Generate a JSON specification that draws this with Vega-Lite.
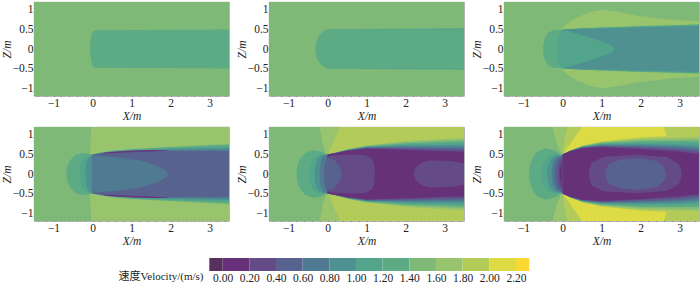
{"$schema":"https://vega.github.io/schema/vega-lite/v6.json","background":"white","padding":{"left":0,"top":-1,"right":0,"bottom":0},
"config":{"view":{"stroke":"#8a8a8a","strokeWidth":0.8},"font":"Liberation Serif",
 "axisX":{"title":"X/m","titleFontStyle":"italic","titleFontWeight":"normal","titleFont":"Liberation Serif","titleFontSize":11.5,"titleColor":"#222","titlePadding":0,"labelFont":"Liberation Serif","labelFontSize":11.5,"labelColor":"#222","labelPadding":5,"labelFlush":false,"labelOverlap":false,"grid":false,"domain":false,"zindex":1,"tickColor":"#333","tickWidth":0.7},
 "axisY":{"titleFontStyle":"italic","titleFontWeight":"normal","titleFont":"Liberation Serif","titleFontSize":11.5,"titleColor":"#222","titlePadding":0,"labelFont":"Liberation Serif","labelFontSize":11.5,"labelColor":"#222","labelPadding":5,"labelFlush":false,"labelOverlap":false,"grid":false,"domain":false,"zindex":1,"tickColor":"#333","tickWidth":0.7}},
"datasets":{"f":[
{"p":1,"r":"a","v":1.5,"x":-1.5,"hi":1.2,"lo":-1.2},{"p":1,"r":"a","v":1.5,"x":3.5,"hi":1.2,"lo":-1.2},
{"p":1,"r":"b","v":1.3,"x":-0.06,"hi":0,"lo":0},{"p":1,"r":"b","v":1.3,"x":-0.057,"hi":0.1,"lo":-0.1},{"p":1,"r":"b","v":1.3,"x":-0.05,"hi":0.2,"lo":-0.2},{"p":1,"r":"b","v":1.3,"x":-0.03,"hi":0.33,"lo":-0.33},{"p":1,"r":"b","v":1.3,"x":-0.01,"hi":0.42,"lo":-0.42},{"p":1,"r":"b","v":1.3,"x":0.03,"hi":0.47,"lo":-0.47},{"p":1,"r":"b","v":1.3,"x":0.1,"hi":0.48,"lo":-0.48},{"p":1,"r":"b","v":1.3,"x":1,"hi":0.485,"lo":-0.485},{"p":1,"r":"b","v":1.3,"x":3.5,"hi":0.5,"lo":-0.5},

{"p":2,"r":"a","v":1.5,"x":-1.5,"hi":1.2,"lo":-1.2},{"p":2,"r":"a","v":1.5,"x":3.5,"hi":1.2,"lo":-1.2},
{"p":2,"r":"b","v":1.3,"x":-0.31,"hi":0,"lo":0},{"p":2,"r":"b","v":1.3,"x":-0.3,"hi":0.1,"lo":-0.1},{"p":2,"r":"b","v":1.3,"x":-0.28,"hi":0.2,"lo":-0.2},{"p":2,"r":"b","v":1.3,"x":-0.24,"hi":0.3,"lo":-0.3},{"p":2,"r":"b","v":1.3,"x":-0.17,"hi":0.4,"lo":-0.4},{"p":2,"r":"b","v":1.3,"x":-0.08,"hi":0.47,"lo":-0.47},{"p":2,"r":"b","v":1.3,"x":0,"hi":0.51,"lo":-0.51},{"p":2,"r":"b","v":1.3,"x":1,"hi":0.51,"lo":-0.51},{"p":2,"r":"b","v":1.3,"x":3.5,"hi":0.53,"lo":-0.53},
{"p":2,"r":"c","v":1.1,"x":0.4,"hi":0.5,"lo":0.5},{"p":2,"r":"c","v":1.1,"x":1,"hi":0.505,"lo":0.485},{"p":2,"r":"c","v":1.1,"x":3.5,"hi":0.52,"lo":0.49},
{"p":2,"r":"d","v":1.1,"x":0.4,"hi":-0.5,"lo":-0.5},{"p":2,"r":"d","v":1.1,"x":1,"hi":-0.485,"lo":-0.505},{"p":2,"r":"d","v":1.1,"x":3.5,"hi":-0.49,"lo":-0.52},

{"p":3,"r":"a","v":1.5,"x":-1.5,"hi":1.2,"lo":-1.2},{"p":3,"r":"a","v":1.5,"x":3.5,"hi":1.2,"lo":-1.2},
{"p":3,"r":"b","v":1.7,"x":-0.03,"hi":0.51,"lo":-0.51},{"p":3,"r":"b","v":1.7,"x":0.1,"hi":0.64,"lo":-0.64},{"p":3,"r":"b","v":1.7,"x":0.38,"hi":0.81,"lo":-0.81},{"p":3,"r":"b","v":1.7,"x":0.7,"hi":0.94,"lo":-0.94},{"p":3,"r":"b","v":1.7,"x":1.02,"hi":1,"lo":-1},{"p":3,"r":"b","v":1.7,"x":1.49,"hi":0.94,"lo":-0.94},{"p":3,"r":"b","v":1.7,"x":1.9,"hi":0.855,"lo":-0.855},{"p":3,"r":"b","v":1.7,"x":2.77,"hi":0.75,"lo":-0.75},{"p":3,"r":"b","v":1.7,"x":3.5,"hi":0.71,"lo":-0.71},
{"p":3,"r":"c","v":1.3,"x":-0.5,"hi":0,"lo":0},{"p":3,"r":"c","v":1.3,"x":-0.488,"hi":0.147,"lo":-0.147},{"p":3,"r":"c","v":1.3,"x":-0.452,"hi":0.282,"lo":-0.282},{"p":3,"r":"c","v":1.3,"x":-0.38,"hi":0.407,"lo":-0.407},{"p":3,"r":"c","v":1.3,"x":-0.26,"hi":0.47,"lo":-0.47},{"p":3,"r":"c","v":1.3,"x":0,"hi":0.49,"lo":-0.49},
{"p":3,"r":"d","v":1.3,"x":0,"hi":0.5,"lo":-0.5},{"p":3,"r":"d","v":1.3,"x":0.5,"hi":0.53,"lo":-0.53},{"p":3,"r":"d","v":1.3,"x":1,"hi":0.55,"lo":-0.55},{"p":3,"r":"d","v":1.3,"x":2,"hi":0.59,"lo":-0.59},{"p":3,"r":"d","v":1.3,"x":3,"hi":0.615,"lo":-0.615},{"p":3,"r":"d","v":1.3,"x":3.5,"hi":0.63,"lo":-0.63},
{"p":3,"r":"e","v":1.1,"x":0,"hi":0.5,"lo":-0.5},{"p":3,"r":"e","v":1.1,"x":0.5,"hi":0.525,"lo":-0.525},{"p":3,"r":"e","v":1.1,"x":1,"hi":0.54,"lo":-0.54},{"p":3,"r":"e","v":1.1,"x":2,"hi":0.575,"lo":-0.575},{"p":3,"r":"e","v":1.1,"x":3,"hi":0.6,"lo":-0.6},{"p":3,"r":"e","v":1.1,"x":3.5,"hi":0.61,"lo":-0.61},
{"p":3,"r":"f","v":0.9,"x":-0.14,"hi":0,"lo":0},{"p":3,"r":"f","v":0.9,"x":-0.135,"hi":0.1,"lo":-0.1},{"p":3,"r":"f","v":0.9,"x":-0.12,"hi":0.22,"lo":-0.22},{"p":3,"r":"f","v":0.9,"x":-0.09,"hi":0.35,"lo":-0.35},{"p":3,"r":"f","v":0.9,"x":-0.04,"hi":0.45,"lo":-0.45},{"p":3,"r":"f","v":0.9,"x":0,"hi":0.5,"lo":-0.5},{"p":3,"r":"f","v":0.9,"x":0.5,"hi":0.515,"lo":-0.515},{"p":3,"r":"f","v":0.9,"x":1,"hi":0.525,"lo":-0.525},{"p":3,"r":"f","v":0.9,"x":2,"hi":0.55,"lo":-0.55},{"p":3,"r":"f","v":0.9,"x":3,"hi":0.575,"lo":-0.575},{"p":3,"r":"f","v":0.9,"x":3.5,"hi":0.585,"lo":-0.585},
{"p":3,"r":"g","v":1.1,"x":-0.14,"hi":0,"lo":0},{"p":3,"r":"g","v":1.1,"x":-0.135,"hi":0.1,"lo":-0.1},{"p":3,"r":"g","v":1.1,"x":-0.12,"hi":0.22,"lo":-0.22},{"p":3,"r":"g","v":1.1,"x":-0.09,"hi":0.35,"lo":-0.35},{"p":3,"r":"g","v":1.1,"x":-0.04,"hi":0.45,"lo":-0.45},{"p":3,"r":"g","v":1.1,"x":0,"hi":0.5,"lo":-0.5},{"p":3,"r":"g","v":1.1,"x":0.2,"hi":0.44,"lo":-0.44},{"p":3,"r":"g","v":1.1,"x":0.55,"hi":0.34,"lo":-0.34},{"p":3,"r":"g","v":1.1,"x":0.9,"hi":0.23,"lo":-0.23},{"p":3,"r":"g","v":1.1,"x":1.15,"hi":0.14,"lo":-0.14},{"p":3,"r":"g","v":1.1,"x":1.28,"hi":0.07,"lo":-0.07},{"p":3,"r":"g","v":1.1,"x":1.34,"hi":0,"lo":0},

{"p":4,"r":"a","v":1.5,"x":-1.5,"hi":1.2,"lo":-1.2},{"p":4,"r":"a","v":1.5,"x":3.5,"hi":1.2,"lo":-1.2},
{"p":4,"r":"b","v":1.7,"x":-0.06,"hi":0.52,"lo":-0.52},{"p":4,"r":"b","v":1.7,"x":-0.055,"hi":0.8,"lo":-0.8},{"p":4,"r":"b","v":1.7,"x":-0.04,"hi":1,"lo":-1},{"p":4,"r":"b","v":1.7,"x":-0.03,"hi":1.2,"lo":-1.2},{"p":4,"r":"b","v":1.7,"x":3.5,"hi":1.2,"lo":-1.2},
{"p":4,"r":"c","v":1.3,"x":-0.675,"hi":0,"lo":0},{"p":4,"r":"c","v":1.3,"x":-0.655,"hi":0.168,"lo":-0.168},{"p":4,"r":"c","v":1.3,"x":-0.593,"hi":0.324,"lo":-0.324},{"p":4,"r":"c","v":1.3,"x":-0.47,"hi":0.468,"lo":-0.468},{"p":4,"r":"c","v":1.3,"x":-0.265,"hi":0.54,"lo":-0.54},{"p":4,"r":"c","v":1.3,"x":-0.1,"hi":0.52,"lo":-0.52},{"p":4,"r":"c","v":1.3,"x":0,"hi":0.49,"lo":-0.49},
{"p":4,"r":"d","v":1.1,"x":-0.333,"hi":0,"lo":0},{"p":4,"r":"d","v":1.1,"x":-0.322,"hi":0.147,"lo":-0.147},{"p":4,"r":"d","v":1.1,"x":-0.29,"hi":0.282,"lo":-0.282},{"p":4,"r":"d","v":1.1,"x":-0.227,"hi":0.407,"lo":-0.407},{"p":4,"r":"d","v":1.1,"x":-0.12,"hi":0.47,"lo":-0.47},{"p":4,"r":"d","v":1.1,"x":0,"hi":0.49,"lo":-0.49},
{"p":4,"r":"e","v":0.9,"x":-0.18,"hi":0,"lo":0},{"p":4,"r":"e","v":0.9,"x":-0.174,"hi":0.147,"lo":-0.147},{"p":4,"r":"e","v":0.9,"x":-0.154,"hi":0.282,"lo":-0.282},{"p":4,"r":"e","v":0.9,"x":-0.115,"hi":0.407,"lo":-0.407},{"p":4,"r":"e","v":0.9,"x":-0.05,"hi":0.47,"lo":-0.47},{"p":4,"r":"e","v":0.9,"x":0,"hi":0.49,"lo":-0.49},
{"p":4,"r":"f","v":1.5,"x":0,"hi":0.5,"lo":-0.5},{"p":4,"r":"f","v":1.5,"x":0.2,"hi":0.545,"lo":-0.545},{"p":4,"r":"f","v":1.5,"x":0.5,"hi":0.6,"lo":-0.6},{"p":4,"r":"f","v":1.5,"x":1,"hi":0.645,"lo":-0.645},{"p":4,"r":"f","v":1.5,"x":2,"hi":0.695,"lo":-0.695},{"p":4,"r":"f","v":1.5,"x":3,"hi":0.745,"lo":-0.745},{"p":4,"r":"f","v":1.5,"x":3.5,"hi":0.765,"lo":-0.765},
{"p":4,"r":"g","v":1.3,"x":0,"hi":0.5,"lo":-0.5},{"p":4,"r":"g","v":1.3,"x":0.2,"hi":0.54,"lo":-0.54},{"p":4,"r":"g","v":1.3,"x":0.5,"hi":0.59,"lo":-0.59},{"p":4,"r":"g","v":1.3,"x":1,"hi":0.635,"lo":-0.635},{"p":4,"r":"g","v":1.3,"x":2,"hi":0.685,"lo":-0.685},{"p":4,"r":"g","v":1.3,"x":3,"hi":0.73,"lo":-0.73},{"p":4,"r":"g","v":1.3,"x":3.5,"hi":0.75,"lo":-0.75},
{"p":4,"r":"h","v":1.1,"x":0,"hi":0.5,"lo":-0.5},{"p":4,"r":"h","v":1.1,"x":0.2,"hi":0.535,"lo":-0.535},{"p":4,"r":"h","v":1.1,"x":0.5,"hi":0.579,"lo":-0.579},{"p":4,"r":"h","v":1.1,"x":1,"hi":0.616,"lo":-0.616},{"p":4,"r":"h","v":1.1,"x":2,"hi":0.661,"lo":-0.661},{"p":4,"r":"h","v":1.1,"x":3,"hi":0.694,"lo":-0.694},{"p":4,"r":"h","v":1.1,"x":3.5,"hi":0.708,"lo":-0.708},
{"p":4,"r":"i","v":0.9,"x":0,"hi":0.5,"lo":-0.5},{"p":4,"r":"i","v":0.9,"x":0.2,"hi":0.53,"lo":-0.53},{"p":4,"r":"i","v":0.9,"x":0.5,"hi":0.568,"lo":-0.568},{"p":4,"r":"i","v":0.9,"x":1,"hi":0.597,"lo":-0.597},{"p":4,"r":"i","v":0.9,"x":2,"hi":0.637,"lo":-0.637},{"p":4,"r":"i","v":0.9,"x":3,"hi":0.658,"lo":-0.658},{"p":4,"r":"i","v":0.9,"x":3.5,"hi":0.665,"lo":-0.665},
{"p":4,"r":"j","v":0.7,"x":0,"hi":0.5,"lo":-0.5},{"p":4,"r":"j","v":0.7,"x":0.2,"hi":0.525,"lo":-0.525},{"p":4,"r":"j","v":0.7,"x":0.5,"hi":0.556,"lo":-0.556},{"p":4,"r":"j","v":0.7,"x":1,"hi":0.579,"lo":-0.579},{"p":4,"r":"j","v":0.7,"x":2,"hi":0.613,"lo":-0.613},{"p":4,"r":"j","v":0.7,"x":3,"hi":0.621,"lo":-0.621},{"p":4,"r":"j","v":0.7,"x":3.5,"hi":0.623,"lo":-0.623},
{"p":4,"r":"k","v":0.5,"x":0,"hi":0.5,"lo":-0.5},{"p":4,"r":"k","v":0.5,"x":0.2,"hi":0.52,"lo":-0.52},{"p":4,"r":"k","v":0.5,"x":0.5,"hi":0.545,"lo":-0.545},{"p":4,"r":"k","v":0.5,"x":1,"hi":0.56,"lo":-0.56},{"p":4,"r":"k","v":0.5,"x":2,"hi":0.59,"lo":-0.59},{"p":4,"r":"k","v":0.5,"x":3,"hi":0.585,"lo":-0.585},{"p":4,"r":"k","v":0.5,"x":3.5,"hi":0.58,"lo":-0.58},
{"p":4,"r":"l","v":0.3,"x":0.15,"hi":0.525,"lo":0.515},{"p":4,"r":"l","v":0.3,"x":0.5,"hi":0.565,"lo":0.53},{"p":4,"r":"l","v":0.3,"x":1,"hi":0.6,"lo":0.55},{"p":4,"r":"l","v":0.3,"x":1.5,"hi":0.615,"lo":0.565},{"p":4,"r":"l","v":0.3,"x":1.9,"hi":0.612,"lo":0.59},{"p":4,"r":"l","v":0.3,"x":1.96,"hi":0.6,"lo":0.6},
{"p":4,"r":"m","v":0.3,"x":0.15,"hi":-0.515,"lo":-0.525},{"p":4,"r":"m","v":0.3,"x":0.5,"hi":-0.53,"lo":-0.565},{"p":4,"r":"m","v":0.3,"x":1,"hi":-0.55,"lo":-0.6},{"p":4,"r":"m","v":0.3,"x":1.5,"hi":-0.565,"lo":-0.615},{"p":4,"r":"m","v":0.3,"x":1.9,"hi":-0.59,"lo":-0.612},{"p":4,"r":"m","v":0.3,"x":1.96,"hi":-0.6,"lo":-0.6},
{"p":4,"r":"n","v":0.1,"x":0.3,"hi":0.54,"lo":0.53},{"p":4,"r":"n","v":0.1,"x":0.6,"hi":0.565,"lo":0.545},{"p":4,"r":"n","v":0.1,"x":1,"hi":0.59,"lo":0.565},{"p":4,"r":"n","v":0.1,"x":1.5,"hi":0.605,"lo":0.58},{"p":4,"r":"n","v":0.1,"x":1.85,"hi":0.6,"lo":0.595},
{"p":4,"r":"o","v":0.1,"x":0.3,"hi":-0.53,"lo":-0.54},{"p":4,"r":"o","v":0.1,"x":0.6,"hi":-0.545,"lo":-0.565},{"p":4,"r":"o","v":0.1,"x":1,"hi":-0.565,"lo":-0.59},{"p":4,"r":"o","v":0.1,"x":1.5,"hi":-0.58,"lo":-0.605},{"p":4,"r":"o","v":0.1,"x":1.85,"hi":-0.595,"lo":-0.6},
{"p":4,"r":"q","v":0.7,"x":0,"hi":0.48,"lo":-0.48},{"p":4,"r":"q","v":0.7,"x":0.2,"hi":0.46,"lo":-0.46},{"p":4,"r":"q","v":0.7,"x":0.63,"hi":0.43,"lo":-0.43},{"p":4,"r":"q","v":0.7,"x":1.23,"hi":0.345,"lo":-0.345},{"p":4,"r":"q","v":0.7,"x":1.55,"hi":0.25,"lo":-0.25},{"p":4,"r":"q","v":0.7,"x":1.78,"hi":0.15,"lo":-0.15},{"p":4,"r":"q","v":0.7,"x":1.9,"hi":0.07,"lo":-0.07},{"p":4,"r":"q","v":0.7,"x":1.94,"hi":0,"lo":0},

{"p":5,"r":"a","v":1.5,"x":-1.5,"hi":1.2,"lo":-1.2},{"p":5,"r":"a","v":1.5,"x":3.5,"hi":1.2,"lo":-1.2},
{"p":5,"r":"b","v":1.7,"x":-0.2,"hi":1.2,"lo":1.2},{"p":5,"r":"b","v":1.7,"x":-0.12,"hi":1.2,"lo":0.77},{"p":5,"r":"b","v":1.7,"x":-0.03,"hi":1.2,"lo":0.51},{"p":5,"r":"b","v":1.7,"x":0,"hi":1.2,"lo":0.5},{"p":5,"r":"b","v":1.7,"x":0.16,"hi":1.2,"lo":0.85},{"p":5,"r":"b","v":1.7,"x":0.31,"hi":1.2,"lo":1.2},
{"p":5,"r":"c","v":1.7,"x":-0.2,"hi":-1.2,"lo":-1.2},{"p":5,"r":"c","v":1.7,"x":-0.12,"hi":-0.77,"lo":-1.2},{"p":5,"r":"c","v":1.7,"x":-0.03,"hi":-0.51,"lo":-1.2},{"p":5,"r":"c","v":1.7,"x":0,"hi":-0.5,"lo":-1.2},{"p":5,"r":"c","v":1.7,"x":0.16,"hi":-0.85,"lo":-1.2},{"p":5,"r":"c","v":1.7,"x":0.31,"hi":-1.2,"lo":-1.2},
{"p":5,"r":"d","v":1.9,"x":0,"hi":0.5,"lo":-0.5},{"p":5,"r":"d","v":1.9,"x":0.16,"hi":0.85,"lo":-0.85},{"p":5,"r":"d","v":1.9,"x":0.31,"hi":1.2,"lo":-1.2},{"p":5,"r":"d","v":1.9,"x":3.5,"hi":1.2,"lo":-1.2},
{"p":5,"r":"e","v":1.3,"x":-0.8,"hi":0,"lo":0},{"p":5,"r":"e","v":1.3,"x":-0.778,"hi":0.192,"lo":-0.192},{"p":5,"r":"e","v":1.3,"x":-0.71,"hi":0.369,"lo":-0.369},{"p":5,"r":"e","v":1.3,"x":-0.575,"hi":0.533,"lo":-0.533},{"p":5,"r":"e","v":1.3,"x":-0.35,"hi":0.615,"lo":-0.615},{"p":5,"r":"e","v":1.3,"x":-0.15,"hi":0.57,"lo":-0.57},{"p":5,"r":"e","v":1.3,"x":0,"hi":0.49,"lo":-0.49},
{"p":5,"r":"f","v":1.1,"x":-0.48,"hi":0,"lo":0},{"p":5,"r":"f","v":1.1,"x":-0.467,"hi":0.15,"lo":-0.15},{"p":5,"r":"f","v":1.1,"x":-0.428,"hi":0.29,"lo":-0.29},{"p":5,"r":"f","v":1.1,"x":-0.35,"hi":0.42,"lo":-0.42},{"p":5,"r":"f","v":1.1,"x":-0.22,"hi":0.49,"lo":-0.49},{"p":5,"r":"f","v":1.1,"x":0,"hi":0.49,"lo":-0.49},
{"p":5,"r":"g","v":0.9,"x":-0.33,"hi":0,"lo":0},{"p":5,"r":"g","v":0.9,"x":-0.321,"hi":0.15,"lo":-0.15},{"p":5,"r":"g","v":0.9,"x":-0.294,"hi":0.288,"lo":-0.288},{"p":5,"r":"g","v":0.9,"x":-0.24,"hi":0.416,"lo":-0.416},{"p":5,"r":"g","v":0.9,"x":-0.15,"hi":0.48,"lo":-0.48},{"p":5,"r":"g","v":0.9,"x":0,"hi":0.49,"lo":-0.49},
{"p":5,"r":"h","v":0.7,"x":-0.2,"hi":0,"lo":0},{"p":5,"r":"h","v":0.7,"x":-0.194,"hi":0.147,"lo":-0.147},{"p":5,"r":"h","v":0.7,"x":-0.176,"hi":0.282,"lo":-0.282},{"p":5,"r":"h","v":0.7,"x":-0.14,"hi":0.407,"lo":-0.407},{"p":5,"r":"h","v":0.7,"x":-0.08,"hi":0.47,"lo":-0.47},{"p":5,"r":"h","v":0.7,"x":0,"hi":0.49,"lo":-0.49},
{"p":5,"r":"i","v":1.7,"x":0,"hi":0.5,"lo":-0.5},{"p":5,"r":"i","v":1.7,"x":0.2,"hi":0.545,"lo":-0.545},{"p":5,"r":"i","v":1.7,"x":0.5,"hi":0.63,"lo":-0.63},{"p":5,"r":"i","v":1.7,"x":1,"hi":0.73,"lo":-0.73},{"p":5,"r":"i","v":1.7,"x":2,"hi":0.84,"lo":-0.84},{"p":5,"r":"i","v":1.7,"x":3,"hi":0.9,"lo":-0.9},{"p":5,"r":"i","v":1.7,"x":3.5,"hi":0.925,"lo":-0.925},
{"p":5,"r":"j","v":1.5,"x":0,"hi":0.5,"lo":-0.5},{"p":5,"r":"j","v":1.5,"x":0.2,"hi":0.543,"lo":-0.543},{"p":5,"r":"j","v":1.5,"x":0.5,"hi":0.625,"lo":-0.625},{"p":5,"r":"j","v":1.5,"x":1,"hi":0.72,"lo":-0.72},{"p":5,"r":"j","v":1.5,"x":2,"hi":0.8125,"lo":-0.8125},{"p":5,"r":"j","v":1.5,"x":3,"hi":0.86,"lo":-0.86},{"p":5,"r":"j","v":1.5,"x":3.5,"hi":0.881,"lo":-0.881},
{"p":5,"r":"k","v":1.3,"x":0,"hi":0.5,"lo":-0.5},{"p":5,"r":"k","v":1.3,"x":0.2,"hi":0.541,"lo":-0.541},{"p":5,"r":"k","v":1.3,"x":0.5,"hi":0.62,"lo":-0.62},{"p":5,"r":"k","v":1.3,"x":1,"hi":0.71,"lo":-0.71},{"p":5,"r":"k","v":1.3,"x":2,"hi":0.785,"lo":-0.785},{"p":5,"r":"k","v":1.3,"x":3,"hi":0.82,"lo":-0.82},{"p":5,"r":"k","v":1.3,"x":3.5,"hi":0.836,"lo":-0.836},
{"p":5,"r":"l","v":1.1,"x":0,"hi":0.5,"lo":-0.5},{"p":5,"r":"l","v":1.1,"x":0.2,"hi":0.539,"lo":-0.539},{"p":5,"r":"l","v":1.1,"x":0.5,"hi":0.615,"lo":-0.615},{"p":5,"r":"l","v":1.1,"x":1,"hi":0.7,"lo":-0.7},{"p":5,"r":"l","v":1.1,"x":2,"hi":0.7575,"lo":-0.7575},{"p":5,"r":"l","v":1.1,"x":3,"hi":0.78,"lo":-0.78},{"p":5,"r":"l","v":1.1,"x":3.5,"hi":0.792,"lo":-0.792},
{"p":5,"r":"m","v":0.9,"x":0,"hi":0.5,"lo":-0.5},{"p":5,"r":"m","v":0.9,"x":0.2,"hi":0.537,"lo":-0.537},{"p":5,"r":"m","v":0.9,"x":0.5,"hi":0.61,"lo":-0.61},{"p":5,"r":"m","v":0.9,"x":1,"hi":0.69,"lo":-0.69},{"p":5,"r":"m","v":0.9,"x":2,"hi":0.73,"lo":-0.73},{"p":5,"r":"m","v":0.9,"x":3,"hi":0.74,"lo":-0.74},{"p":5,"r":"m","v":0.9,"x":3.5,"hi":0.747,"lo":-0.747},
{"p":5,"r":"n","v":0.7,"x":0,"hi":0.5,"lo":-0.5},{"p":5,"r":"n","v":0.7,"x":0.2,"hi":0.535,"lo":-0.535},{"p":5,"r":"n","v":0.7,"x":0.5,"hi":0.605,"lo":-0.605},{"p":5,"r":"n","v":0.7,"x":1,"hi":0.68,"lo":-0.68},{"p":5,"r":"n","v":0.7,"x":2,"hi":0.7025,"lo":-0.7025},{"p":5,"r":"n","v":0.7,"x":3,"hi":0.7,"lo":-0.7},{"p":5,"r":"n","v":0.7,"x":3.5,"hi":0.703,"lo":-0.703},
{"p":5,"r":"o","v":0.5,"x":0,"hi":0.5,"lo":-0.5},{"p":5,"r":"o","v":0.5,"x":0.2,"hi":0.533,"lo":-0.533},{"p":5,"r":"o","v":0.5,"x":0.5,"hi":0.6,"lo":-0.6},{"p":5,"r":"o","v":0.5,"x":1,"hi":0.67,"lo":-0.67},{"p":5,"r":"o","v":0.5,"x":2,"hi":0.675,"lo":-0.675},{"p":5,"r":"o","v":0.5,"x":3,"hi":0.66,"lo":-0.66},{"p":5,"r":"o","v":0.5,"x":3.5,"hi":0.659,"lo":-0.659},
{"p":5,"r":"p","v":0.3,"x":0,"hi":0.5,"lo":-0.5},{"p":5,"r":"p","v":0.3,"x":0.2,"hi":0.531,"lo":-0.531},{"p":5,"r":"p","v":0.3,"x":0.5,"hi":0.595,"lo":-0.595},{"p":5,"r":"p","v":0.3,"x":1,"hi":0.66,"lo":-0.66},{"p":5,"r":"p","v":0.3,"x":2,"hi":0.6475,"lo":-0.6475},{"p":5,"r":"p","v":0.3,"x":3,"hi":0.62,"lo":-0.62},{"p":5,"r":"p","v":0.3,"x":3.5,"hi":0.614,"lo":-0.614},
{"p":5,"r":"q","v":0.1,"x":0,"hi":0.5,"lo":-0.5},{"p":5,"r":"q","v":0.1,"x":0.2,"hi":0.53,"lo":-0.53},{"p":5,"r":"q","v":0.1,"x":0.5,"hi":0.59,"lo":-0.59},{"p":5,"r":"q","v":0.1,"x":1,"hi":0.65,"lo":-0.65},{"p":5,"r":"q","v":0.1,"x":2,"hi":0.62,"lo":-0.62},{"p":5,"r":"q","v":0.1,"x":3,"hi":0.58,"lo":-0.58},{"p":5,"r":"q","v":0.1,"x":3.5,"hi":0.57,"lo":-0.57},
{"p":5,"r":"s","v":0.3,"x":0,"hi":0.45,"lo":-0.45},{"p":5,"r":"s","v":0.3,"x":0.2,"hi":0.48,"lo":-0.48},{"p":5,"r":"s","v":0.3,"x":0.5,"hi":0.5,"lo":-0.5},{"p":5,"r":"s","v":0.3,"x":0.8,"hi":0.49,"lo":-0.49},{"p":5,"r":"s","v":0.3,"x":1,"hi":0.47,"lo":-0.47},{"p":5,"r":"s","v":0.3,"x":1.12,"hi":0.41,"lo":-0.41},{"p":5,"r":"s","v":0.3,"x":1.19,"hi":0.28,"lo":-0.28},{"p":5,"r":"s","v":0.3,"x":1.21,"hi":0.1,"lo":-0.1},{"p":5,"r":"s","v":0.3,"x":1.215,"hi":0,"lo":0},
{"p":5,"r":"t","v":0.3,"x":2.21,"hi":0,"lo":0},{"p":5,"r":"t","v":0.3,"x":2.23,"hi":0.1,"lo":-0.1},{"p":5,"r":"t","v":0.3,"x":2.3,"hi":0.2,"lo":-0.2},{"p":5,"r":"t","v":0.3,"x":2.45,"hi":0.3,"lo":-0.3},{"p":5,"r":"t","v":0.3,"x":2.64,"hi":0.345,"lo":-0.345},{"p":5,"r":"t","v":0.3,"x":3,"hi":0.34,"lo":-0.34},{"p":5,"r":"t","v":0.3,"x":3.2,"hi":0.325,"lo":-0.325},{"p":5,"r":"t","v":0.3,"x":3.5,"hi":0.27,"lo":-0.27},
{"p":5,"r":"u","v":0.5,"x":-0.09,"hi":0,"lo":0},{"p":5,"r":"u","v":0.5,"x":-0.085,"hi":0.13,"lo":-0.13},{"p":5,"r":"u","v":0.5,"x":-0.07,"hi":0.26,"lo":-0.26},{"p":5,"r":"u","v":0.5,"x":-0.04,"hi":0.36,"lo":-0.36},{"p":5,"r":"u","v":0.5,"x":0,"hi":0.41,"lo":-0.41},{"p":5,"r":"u","v":0.5,"x":0.03,"hi":0.41,"lo":-0.41},{"p":5,"r":"u","v":0.5,"x":0.1,"hi":0.4,"lo":-0.4},{"p":5,"r":"u","v":0.5,"x":0.2,"hi":0.33,"lo":-0.33},{"p":5,"r":"u","v":0.5,"x":0.3,"hi":0.2,"lo":-0.2},{"p":5,"r":"u","v":0.5,"x":0.35,"hi":0.08,"lo":-0.08},{"p":5,"r":"u","v":0.5,"x":0.36,"hi":0,"lo":0},

{"p":6,"r":"a","v":1.5,"x":-1.5,"hi":1.2,"lo":-1.2},{"p":6,"r":"a","v":1.5,"x":3.5,"hi":1.2,"lo":-1.2},
{"p":6,"r":"b","v":1.7,"x":-0.25,"hi":1.2,"lo":1.2},{"p":6,"r":"b","v":1.7,"x":-0.15,"hi":1.2,"lo":0.77},{"p":6,"r":"b","v":1.7,"x":-0.03,"hi":1.2,"lo":0.51},{"p":6,"r":"b","v":1.7,"x":0,"hi":1.2,"lo":0.5},{"p":6,"r":"b","v":1.7,"x":0.03,"hi":1.2,"lo":0.77},{"p":6,"r":"b","v":1.7,"x":0.12,"hi":1.2,"lo":1.2},
{"p":6,"r":"c","v":1.7,"x":-0.25,"hi":-1.2,"lo":-1.2},{"p":6,"r":"c","v":1.7,"x":-0.15,"hi":-0.77,"lo":-1.2},{"p":6,"r":"c","v":1.7,"x":-0.03,"hi":-0.51,"lo":-1.2},{"p":6,"r":"c","v":1.7,"x":0,"hi":-0.5,"lo":-1.2},{"p":6,"r":"c","v":1.7,"x":0.03,"hi":-0.77,"lo":-1.2},{"p":6,"r":"c","v":1.7,"x":0.12,"hi":-1.2,"lo":-1.2},
{"p":6,"r":"d","v":1.9,"x":0,"hi":0.5,"lo":-0.5},{"p":6,"r":"d","v":1.9,"x":0.03,"hi":0.77,"lo":-0.77},{"p":6,"r":"d","v":1.9,"x":0.12,"hi":1.2,"lo":-1.2},{"p":6,"r":"d","v":1.9,"x":3.5,"hi":1.2,"lo":-1.2},
{"p":6,"r":"e","v":2.1,"x":0,"hi":0.5,"lo":-0.5},{"p":6,"r":"e","v":2.1,"x":0.2,"hi":0.77,"lo":-0.77},{"p":6,"r":"e","v":2.1,"x":0.5,"hi":1.2,"lo":-1.2},{"p":6,"r":"e","v":2.1,"x":2.6,"hi":1.2,"lo":-1.2},{"p":6,"r":"e","v":2.1,"x":2.68,"hi":0.94,"lo":-0.94},{"p":6,"r":"e","v":2.1,"x":2.72,"hi":0.5,"lo":-0.5},
{"p":6,"r":"f","v":1.3,"x":-0.86,"hi":0,"lo":0},{"p":6,"r":"f","v":1.3,"x":-0.839,"hi":0.206,"lo":-0.206},{"p":6,"r":"f","v":1.3,"x":-0.776,"hi":0.396,"lo":-0.396},{"p":6,"r":"f","v":1.3,"x":-0.65,"hi":0.572,"lo":-0.572},{"p":6,"r":"f","v":1.3,"x":-0.44,"hi":0.66,"lo":-0.66},{"p":6,"r":"f","v":1.3,"x":-0.2,"hi":0.6,"lo":-0.6},{"p":6,"r":"f","v":1.3,"x":0,"hi":0.47,"lo":-0.47},
{"p":6,"r":"g","v":1.1,"x":-0.55,"hi":0,"lo":0},{"p":6,"r":"g","v":1.1,"x":-0.536,"hi":0.153,"lo":-0.153},{"p":6,"r":"g","v":1.1,"x":-0.493,"hi":0.294,"lo":-0.294},{"p":6,"r":"g","v":1.1,"x":-0.408,"hi":0.424,"lo":-0.424},{"p":6,"r":"g","v":1.1,"x":-0.265,"hi":0.49,"lo":-0.49},{"p":6,"r":"g","v":1.1,"x":-0.1,"hi":0.49,"lo":-0.49},{"p":6,"r":"g","v":1.1,"x":0,"hi":0.48,"lo":-0.48},
{"p":6,"r":"h","v":0.9,"x":-0.39,"hi":0,"lo":0},{"p":6,"r":"h","v":0.9,"x":-0.38,"hi":0.147,"lo":-0.147},{"p":6,"r":"h","v":0.9,"x":-0.348,"hi":0.282,"lo":-0.282},{"p":6,"r":"h","v":0.9,"x":-0.285,"hi":0.407,"lo":-0.407},{"p":6,"r":"h","v":0.9,"x":-0.18,"hi":0.47,"lo":-0.47},{"p":6,"r":"h","v":0.9,"x":0,"hi":0.48,"lo":-0.48},
{"p":6,"r":"i","v":0.7,"x":-0.28,"hi":0,"lo":0},{"p":6,"r":"i","v":0.7,"x":-0.272,"hi":0.137,"lo":-0.137},{"p":6,"r":"i","v":0.7,"x":-0.248,"hi":0.264,"lo":-0.264},{"p":6,"r":"i","v":0.7,"x":-0.2,"hi":0.381,"lo":-0.381},{"p":6,"r":"i","v":0.7,"x":-0.12,"hi":0.44,"lo":-0.44},{"p":6,"r":"i","v":0.7,"x":0,"hi":0.47,"lo":-0.47},
{"p":6,"r":"j","v":0.5,"x":-0.2,"hi":0,"lo":0},{"p":6,"r":"j","v":0.5,"x":-0.194,"hi":0.131,"lo":-0.131},{"p":6,"r":"j","v":0.5,"x":-0.176,"hi":0.252,"lo":-0.252},{"p":6,"r":"j","v":0.5,"x":-0.14,"hi":0.364,"lo":-0.364},{"p":6,"r":"j","v":0.5,"x":-0.08,"hi":0.42,"lo":-0.42},{"p":6,"r":"j","v":0.5,"x":0,"hi":0.45,"lo":-0.45},
{"p":6,"r":"k","v":0.3,"x":-0.12,"hi":0,"lo":0},{"p":6,"r":"k","v":0.3,"x":-0.115,"hi":0.12,"lo":-0.12},{"p":6,"r":"k","v":0.3,"x":-0.1,"hi":0.23,"lo":-0.23},{"p":6,"r":"k","v":0.3,"x":-0.07,"hi":0.33,"lo":-0.33},{"p":6,"r":"k","v":0.3,"x":-0.03,"hi":0.39,"lo":-0.39},{"p":6,"r":"k","v":0.3,"x":0,"hi":0.42,"lo":-0.42},
{"p":6,"r":"l","v":0.1,"x":-0.07,"hi":0,"lo":0},{"p":6,"r":"l","v":0.1,"x":-0.065,"hi":0.1,"lo":-0.1},{"p":6,"r":"l","v":0.1,"x":-0.05,"hi":0.2,"lo":-0.2},{"p":6,"r":"l","v":0.1,"x":-0.03,"hi":0.28,"lo":-0.28},{"p":6,"r":"l","v":0.1,"x":0,"hi":0.33,"lo":-0.33},
{"p":6,"r":"m","v":1.9,"x":0,"hi":0.5,"lo":-0.5},{"p":6,"r":"m","v":1.9,"x":0.2,"hi":0.6,"lo":-0.6},{"p":6,"r":"m","v":1.9,"x":0.5,"hi":0.72,"lo":-0.72},{"p":6,"r":"m","v":1.9,"x":1,"hi":0.83,"lo":-0.83},{"p":6,"r":"m","v":1.9,"x":2,"hi":0.93,"lo":-0.93},{"p":6,"r":"m","v":1.9,"x":3,"hi":0.98,"lo":-0.98},{"p":6,"r":"m","v":1.9,"x":3.5,"hi":1,"lo":-1},
{"p":6,"r":"n","v":1.7,"x":0,"hi":0.5,"lo":-0.5},{"p":6,"r":"n","v":1.7,"x":0.2,"hi":0.598,"lo":-0.598},{"p":6,"r":"n","v":1.7,"x":0.5,"hi":0.713,"lo":-0.713},{"p":6,"r":"n","v":1.7,"x":1,"hi":0.814,"lo":-0.814},{"p":6,"r":"n","v":1.7,"x":2,"hi":0.898,"lo":-0.898},{"p":6,"r":"n","v":1.7,"x":3,"hi":0.934,"lo":-0.934},{"p":6,"r":"n","v":1.7,"x":3.5,"hi":0.946,"lo":-0.946},
{"p":6,"r":"o","v":1.5,"x":0,"hi":0.5,"lo":-0.5},{"p":6,"r":"o","v":1.5,"x":0.2,"hi":0.596,"lo":-0.596},{"p":6,"r":"o","v":1.5,"x":0.5,"hi":0.707,"lo":-0.707},{"p":6,"r":"o","v":1.5,"x":1,"hi":0.799,"lo":-0.799},{"p":6,"r":"o","v":1.5,"x":2,"hi":0.866,"lo":-0.866},{"p":6,"r":"o","v":1.5,"x":3,"hi":0.889,"lo":-0.889},{"p":6,"r":"o","v":1.5,"x":3.5,"hi":0.891,"lo":-0.891},
{"p":6,"r":"p","v":1.3,"x":0,"hi":0.5,"lo":-0.5},{"p":6,"r":"p","v":1.3,"x":0.2,"hi":0.593,"lo":-0.593},{"p":6,"r":"p","v":1.3,"x":0.5,"hi":0.7,"lo":-0.7},{"p":6,"r":"p","v":1.3,"x":1,"hi":0.783,"lo":-0.783},{"p":6,"r":"p","v":1.3,"x":2,"hi":0.833,"lo":-0.833},{"p":6,"r":"p","v":1.3,"x":3,"hi":0.843,"lo":-0.843},{"p":6,"r":"p","v":1.3,"x":3.5,"hi":0.837,"lo":-0.837},
{"p":6,"r":"q","v":1.1,"x":0,"hi":0.5,"lo":-0.5},{"p":6,"r":"q","v":1.1,"x":0.2,"hi":0.591,"lo":-0.591},{"p":6,"r":"q","v":1.1,"x":0.5,"hi":0.693,"lo":-0.693},{"p":6,"r":"q","v":1.1,"x":1,"hi":0.768,"lo":-0.768},{"p":6,"r":"q","v":1.1,"x":2,"hi":0.801,"lo":-0.801},{"p":6,"r":"q","v":1.1,"x":3,"hi":0.798,"lo":-0.798},{"p":6,"r":"q","v":1.1,"x":3.5,"hi":0.782,"lo":-0.782},
{"p":6,"r":"s","v":0.9,"x":0,"hi":0.5,"lo":-0.5},{"p":6,"r":"s","v":0.9,"x":0.2,"hi":0.589,"lo":-0.589},{"p":6,"r":"s","v":0.9,"x":0.5,"hi":0.687,"lo":-0.687},{"p":6,"r":"s","v":0.9,"x":1,"hi":0.752,"lo":-0.752},{"p":6,"r":"s","v":0.9,"x":2,"hi":0.769,"lo":-0.769},{"p":6,"r":"s","v":0.9,"x":3,"hi":0.752,"lo":-0.752},{"p":6,"r":"s","v":0.9,"x":3.5,"hi":0.728,"lo":-0.728},
{"p":6,"r":"t","v":0.7,"x":0,"hi":0.5,"lo":-0.5},{"p":6,"r":"t","v":0.7,"x":0.2,"hi":0.587,"lo":-0.587},{"p":6,"r":"t","v":0.7,"x":0.5,"hi":0.68,"lo":-0.68},{"p":6,"r":"t","v":0.7,"x":1,"hi":0.736,"lo":-0.736},{"p":6,"r":"t","v":0.7,"x":2,"hi":0.737,"lo":-0.737},{"p":6,"r":"t","v":0.7,"x":3,"hi":0.706,"lo":-0.706},{"p":6,"r":"t","v":0.7,"x":3.5,"hi":0.673,"lo":-0.673},
{"p":6,"r":"u","v":0.5,"x":0,"hi":0.5,"lo":-0.5},{"p":6,"r":"u","v":0.5,"x":0.2,"hi":0.585,"lo":-0.585},{"p":6,"r":"u","v":0.5,"x":0.5,"hi":0.673,"lo":-0.673},{"p":6,"r":"u","v":0.5,"x":1,"hi":0.721,"lo":-0.721},{"p":6,"r":"u","v":0.5,"x":2,"hi":0.704,"lo":-0.704},{"p":6,"r":"u","v":0.5,"x":3,"hi":0.661,"lo":-0.661},{"p":6,"r":"u","v":0.5,"x":3.5,"hi":0.619,"lo":-0.619},
{"p":6,"r":"v","v":0.3,"x":0,"hi":0.5,"lo":-0.5},{"p":6,"r":"v","v":0.3,"x":0.2,"hi":0.582,"lo":-0.582},{"p":6,"r":"v","v":0.3,"x":0.5,"hi":0.667,"lo":-0.667},{"p":6,"r":"v","v":0.3,"x":1,"hi":0.705,"lo":-0.705},{"p":6,"r":"v","v":0.3,"x":2,"hi":0.672,"lo":-0.672},{"p":6,"r":"v","v":0.3,"x":3,"hi":0.615,"lo":-0.615},{"p":6,"r":"v","v":0.3,"x":3.5,"hi":0.564,"lo":-0.564},
{"p":6,"r":"w","v":0.1,"x":0,"hi":0.5,"lo":-0.5},{"p":6,"r":"w","v":0.1,"x":0.2,"hi":0.58,"lo":-0.58},{"p":6,"r":"w","v":0.1,"x":0.5,"hi":0.66,"lo":-0.66},{"p":6,"r":"w","v":0.1,"x":1,"hi":0.69,"lo":-0.69},{"p":6,"r":"w","v":0.1,"x":2,"hi":0.64,"lo":-0.64},{"p":6,"r":"w","v":0.1,"x":3,"hi":0.57,"lo":-0.57},{"p":6,"r":"w","v":0.1,"x":3.5,"hi":0.51,"lo":-0.51},
{"p":6,"r":"x","v":0.3,"x":0.675,"hi":0,"lo":0},{"p":6,"r":"x","v":0.3,"x":0.69,"hi":0.12,"lo":-0.12},{"p":6,"r":"x","v":0.3,"x":0.76,"hi":0.3,"lo":-0.3},{"p":6,"r":"x","v":0.3,"x":1.06,"hi":0.44,"lo":-0.44},{"p":6,"r":"x","v":0.3,"x":1.91,"hi":0.49,"lo":-0.49},{"p":6,"r":"x","v":0.3,"x":2.68,"hi":0.43,"lo":-0.43},{"p":6,"r":"x","v":0.3,"x":2.98,"hi":0.26,"lo":-0.26},{"p":6,"r":"x","v":0.3,"x":3.04,"hi":0.1,"lo":-0.1},{"p":6,"r":"x","v":0.3,"x":3.05,"hi":0,"lo":0},
{"p":6,"r":"y","v":0.5,"x":1.1,"hi":0,"lo":0},{"p":6,"r":"y","v":0.5,"x":1.12,"hi":0.12,"lo":-0.12},{"p":6,"r":"y","v":0.5,"x":1.19,"hi":0.26,"lo":-0.26},{"p":6,"r":"y","v":0.5,"x":1.49,"hi":0.37,"lo":-0.37},{"p":6,"r":"y","v":0.5,"x":2,"hi":0.4,"lo":-0.4},{"p":6,"r":"y","v":0.5,"x":2.43,"hi":0.325,"lo":-0.325},{"p":6,"r":"y","v":0.5,"x":2.6,"hi":0.18,"lo":-0.18},{"p":6,"r":"y","v":0.5,"x":2.64,"hi":0.08,"lo":-0.08},{"p":6,"r":"y","v":0.5,"x":2.66,"hi":0,"lo":0}
]},
"vconcat":[
{"data":{"name":"f"},"columns":3,"spacing":{"row":31,"column":40},"bounds":"flush",
 "resolve":{"axis":{"x":"independent","y":"independent"}},
 "concat":[
 {"width":195,"height":94,"transform":[{"filter":"datum.p===1"}],"mark":{"type":"area","opacity":1,"clip":true},"encoding":{"x":{"field":"x","type":"quantitative","scale":{"domain":[-1.5,3.5],"nice":false,"zero":false},"axis":{"title":"X/m","values":[-1.4,-1.2,-1,-0.8,-0.6,-0.4,-0.2,0,0.2,0.4,0.6,0.8,1,1.2,1.4,1.6,1.8,2,2.2,2.4,2.6,2.8,3,3.2,3.4],"labelExpr":"abs(datum.value-round(datum.value))<0.001?format(round(datum.value),'d'):''","tickSize":{"condition":{"test":"abs(datum.value-round(datum.value))<0.001","value":-4},"value":-2}}},"y":{"field":"hi","type":"quantitative","stack":null,"scale":{"domain":[-1.2,1.2],"nice":false,"zero":false},"axis":{"title":"Z/m","values":[-1.1,-1,-0.9,-0.8,-0.7,-0.6,-0.5,-0.4,-0.3,-0.2,-0.1,0,0.1,0.2,0.3,0.4,0.5,0.6,0.7,0.8,0.9,1,1.1],"labelExpr":"abs(datum.value*2-round(datum.value*2))<0.001?format(datum.value,''):''","tickSize":{"condition":{"test":"abs(datum.value*2-round(datum.value*2))<0.001","value":-4},"value":-2}}},"y2":{"field":"lo"},"detail":{"field":"r"},"color":{"field":"v","type":"quantitative","legend":null,"scale":{"type":"threshold","domain":[0,0.2,0.4,0.6,0.8,1,1.2,1.4,1.6,1.8,2,2.2],"range":["#57305f","#67317a","#644b88","#58628f","#4f7a92","#4f9190","#52a48b","#5dab85","#7fb978","#97c46c","#b2cb59","#dcdb44","#fcd835"]}}}},
 {"width":195,"height":94,"transform":[{"filter":"datum.p===2"}],"mark":{"type":"area","opacity":1,"clip":true},"encoding":{"x":{"field":"x","type":"quantitative","scale":{"domain":[-1.5,3.5],"nice":false,"zero":false},"axis":{"title":"X/m","values":[-1.4,-1.2,-1,-0.8,-0.6,-0.4,-0.2,0,0.2,0.4,0.6,0.8,1,1.2,1.4,1.6,1.8,2,2.2,2.4,2.6,2.8,3,3.2,3.4],"labelExpr":"abs(datum.value-round(datum.value))<0.001?format(round(datum.value),'d'):''","tickSize":{"condition":{"test":"abs(datum.value-round(datum.value))<0.001","value":-4},"value":-2}}},"y":{"field":"hi","type":"quantitative","stack":null,"scale":{"domain":[-1.2,1.2],"nice":false,"zero":false},"axis":{"title":"Z/m","values":[-1.1,-1,-0.9,-0.8,-0.7,-0.6,-0.5,-0.4,-0.3,-0.2,-0.1,0,0.1,0.2,0.3,0.4,0.5,0.6,0.7,0.8,0.9,1,1.1],"labelExpr":"abs(datum.value*2-round(datum.value*2))<0.001?format(datum.value,''):''","tickSize":{"condition":{"test":"abs(datum.value*2-round(datum.value*2))<0.001","value":-4},"value":-2}}},"y2":{"field":"lo"},"detail":{"field":"r"},"color":{"field":"v","type":"quantitative","legend":null,"scale":{"type":"threshold","domain":[0,0.2,0.4,0.6,0.8,1,1.2,1.4,1.6,1.8,2,2.2],"range":["#57305f","#67317a","#644b88","#58628f","#4f7a92","#4f9190","#52a48b","#5dab85","#7fb978","#97c46c","#b2cb59","#dcdb44","#fcd835"]}}}},
 {"width":195,"height":94,"transform":[{"filter":"datum.p===3"}],"mark":{"type":"area","opacity":1,"clip":true},"encoding":{"x":{"field":"x","type":"quantitative","scale":{"domain":[-1.5,3.5],"nice":false,"zero":false},"axis":{"title":"X/m","values":[-1.4,-1.2,-1,-0.8,-0.6,-0.4,-0.2,0,0.2,0.4,0.6,0.8,1,1.2,1.4,1.6,1.8,2,2.2,2.4,2.6,2.8,3,3.2,3.4],"labelExpr":"abs(datum.value-round(datum.value))<0.001?format(round(datum.value),'d'):''","tickSize":{"condition":{"test":"abs(datum.value-round(datum.value))<0.001","value":-4},"value":-2}}},"y":{"field":"hi","type":"quantitative","stack":null,"scale":{"domain":[-1.2,1.2],"nice":false,"zero":false},"axis":{"title":"Z/m","values":[-1.1,-1,-0.9,-0.8,-0.7,-0.6,-0.5,-0.4,-0.3,-0.2,-0.1,0,0.1,0.2,0.3,0.4,0.5,0.6,0.7,0.8,0.9,1,1.1],"labelExpr":"abs(datum.value*2-round(datum.value*2))<0.001?format(datum.value,''):''","tickSize":{"condition":{"test":"abs(datum.value*2-round(datum.value*2))<0.001","value":-4},"value":-2}}},"y2":{"field":"lo"},"detail":{"field":"r"},"color":{"field":"v","type":"quantitative","legend":null,"scale":{"type":"threshold","domain":[0,0.2,0.4,0.6,0.8,1,1.2,1.4,1.6,1.8,2,2.2],"range":["#57305f","#67317a","#644b88","#58628f","#4f7a92","#4f9190","#52a48b","#5dab85","#7fb978","#97c46c","#b2cb59","#dcdb44","#fcd835"]}}}},
 {"width":195,"height":94,"transform":[{"filter":"datum.p===4"}],"mark":{"type":"area","opacity":1,"clip":true},"encoding":{"x":{"field":"x","type":"quantitative","scale":{"domain":[-1.5,3.5],"nice":false,"zero":false},"axis":{"title":"X/m","values":[-1.4,-1.2,-1,-0.8,-0.6,-0.4,-0.2,0,0.2,0.4,0.6,0.8,1,1.2,1.4,1.6,1.8,2,2.2,2.4,2.6,2.8,3,3.2,3.4],"labelExpr":"abs(datum.value-round(datum.value))<0.001?format(round(datum.value),'d'):''","tickSize":{"condition":{"test":"abs(datum.value-round(datum.value))<0.001","value":-4},"value":-2}}},"y":{"field":"hi","type":"quantitative","stack":null,"scale":{"domain":[-1.2,1.2],"nice":false,"zero":false},"axis":{"title":"Z/m","values":[-1.1,-1,-0.9,-0.8,-0.7,-0.6,-0.5,-0.4,-0.3,-0.2,-0.1,0,0.1,0.2,0.3,0.4,0.5,0.6,0.7,0.8,0.9,1,1.1],"labelExpr":"abs(datum.value*2-round(datum.value*2))<0.001?format(datum.value,''):''","tickSize":{"condition":{"test":"abs(datum.value*2-round(datum.value*2))<0.001","value":-4},"value":-2}}},"y2":{"field":"lo"},"detail":{"field":"r"},"color":{"field":"v","type":"quantitative","legend":null,"scale":{"type":"threshold","domain":[0,0.2,0.4,0.6,0.8,1,1.2,1.4,1.6,1.8,2,2.2],"range":["#57305f","#67317a","#644b88","#58628f","#4f7a92","#4f9190","#52a48b","#5dab85","#7fb978","#97c46c","#b2cb59","#dcdb44","#fcd835"]}}}},
 {"width":195,"height":94,"transform":[{"filter":"datum.p===5"}],"mark":{"type":"area","opacity":1,"clip":true},"encoding":{"x":{"field":"x","type":"quantitative","scale":{"domain":[-1.5,3.5],"nice":false,"zero":false},"axis":{"title":"X/m","values":[-1.4,-1.2,-1,-0.8,-0.6,-0.4,-0.2,0,0.2,0.4,0.6,0.8,1,1.2,1.4,1.6,1.8,2,2.2,2.4,2.6,2.8,3,3.2,3.4],"labelExpr":"abs(datum.value-round(datum.value))<0.001?format(round(datum.value),'d'):''","tickSize":{"condition":{"test":"abs(datum.value-round(datum.value))<0.001","value":-4},"value":-2}}},"y":{"field":"hi","type":"quantitative","stack":null,"scale":{"domain":[-1.2,1.2],"nice":false,"zero":false},"axis":{"title":"Z/m","values":[-1.1,-1,-0.9,-0.8,-0.7,-0.6,-0.5,-0.4,-0.3,-0.2,-0.1,0,0.1,0.2,0.3,0.4,0.5,0.6,0.7,0.8,0.9,1,1.1],"labelExpr":"abs(datum.value*2-round(datum.value*2))<0.001?format(datum.value,''):''","tickSize":{"condition":{"test":"abs(datum.value*2-round(datum.value*2))<0.001","value":-4},"value":-2}}},"y2":{"field":"lo"},"detail":{"field":"r"},"color":{"field":"v","type":"quantitative","legend":null,"scale":{"type":"threshold","domain":[0,0.2,0.4,0.6,0.8,1,1.2,1.4,1.6,1.8,2,2.2],"range":["#57305f","#67317a","#644b88","#58628f","#4f7a92","#4f9190","#52a48b","#5dab85","#7fb978","#97c46c","#b2cb59","#dcdb44","#fcd835"]}}}},
 {"width":195,"height":94,"transform":[{"filter":"datum.p===6"}],"mark":{"type":"area","opacity":1,"clip":true},"encoding":{"x":{"field":"x","type":"quantitative","scale":{"domain":[-1.5,3.5],"nice":false,"zero":false},"axis":{"title":"X/m","values":[-1.4,-1.2,-1,-0.8,-0.6,-0.4,-0.2,0,0.2,0.4,0.6,0.8,1,1.2,1.4,1.6,1.8,2,2.2,2.4,2.6,2.8,3,3.2,3.4],"labelExpr":"abs(datum.value-round(datum.value))<0.001?format(round(datum.value),'d'):''","tickSize":{"condition":{"test":"abs(datum.value-round(datum.value))<0.001","value":-4},"value":-2}}},"y":{"field":"hi","type":"quantitative","stack":null,"scale":{"domain":[-1.2,1.2],"nice":false,"zero":false},"axis":{"title":"Z/m","values":[-1.1,-1,-0.9,-0.8,-0.7,-0.6,-0.5,-0.4,-0.3,-0.2,-0.1,0,0.1,0.2,0.3,0.4,0.5,0.6,0.7,0.8,0.9,1,1.1],"labelExpr":"abs(datum.value*2-round(datum.value*2))<0.001?format(datum.value,''):''","tickSize":{"condition":{"test":"abs(datum.value*2-round(datum.value*2))<0.001","value":-4},"value":-2}}},"y2":{"field":"lo"},"detail":{"field":"r"},"color":{"field":"v","type":"quantitative","legend":null,"scale":{"type":"threshold","domain":[0,0.2,0.4,0.6,0.8,1,1.2,1.4,1.6,1.8,2,2.2],"range":["#57305f","#67317a","#644b88","#58628f","#4f7a92","#4f9190","#52a48b","#5dab85","#7fb978","#97c46c","#b2cb59","#dcdb44","#fcd835"]}}}}
 ]},
{"width":665,"height":13,
 "data":{"values":[{"a":-0.1,"b":0,"v":-0.05},{"a":0,"b":0.2,"v":0.1},{"a":0.2,"b":0.4,"v":0.3},{"a":0.4,"b":0.6,"v":0.5},{"a":0.6,"b":0.8,"v":0.7},{"a":0.8,"b":1,"v":0.9},{"a":1,"b":1.2,"v":1.1},{"a":1.2,"b":1.4,"v":1.3},{"a":1.4,"b":1.6,"v":1.5},{"a":1.6,"b":1.8,"v":1.7},{"a":1.8,"b":2,"v":1.9},{"a":2,"b":2.2,"v":2.1},{"a":2.2,"b":2.3,"v":2.25}]},
 "view":{"stroke":null},
 "mark":{"type":"rect"},
 "encoding":{
  "x":{"field":"a","type":"quantitative","scale":{"domain":[-1.415,3.573],"nice":false,"zero":false},
   "axis":{"title":"速度Velocity/(m/s)","titleFont":"Liberation Serif, Noto Sans CJK SC","titleFontStyle":"normal","titleFontWeight":"normal","titleFontSize":11,"titleColor":"#222","titleX":169,"titleY":5,"titleAlign":"right","titleBaseline":"middle",
    "values":[0,0.2,0.4,0.6,0.8,1,1.2,1.4,1.6,1.8,2,2.2],"format":".2f","labelPadding":1,"ticks":false,"zindex":0}},
  "x2":{"field":"b"},
  "color":{"field":"v","type":"quantitative","legend":null,"scale":{"type":"threshold","domain":[0,0.2,0.4,0.6,0.8,1,1.2,1.4,1.6,1.8,2,2.2],"range":["#57305f","#67317a","#644b88","#58628f","#4f7a92","#4f9190","#52a48b","#5dab85","#7fb978","#97c46c","#b2cb59","#dcdb44","#fcd835"]}}
 }}
],"spacing":10}
